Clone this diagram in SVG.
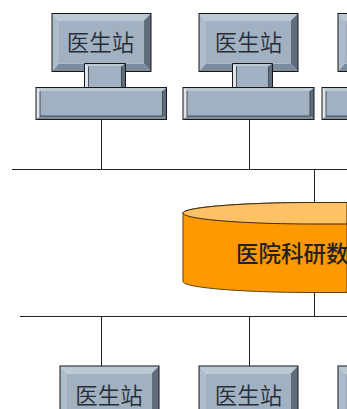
<svg xmlns="http://www.w3.org/2000/svg" xmlns:xlink="http://www.w3.org/1999/xlink" width="347" height="409" viewBox="0 0 347 409">
<style>
.f{fill:#a2b1c1}.t{fill:#bcc8d4}.l{fill:#aebccb}.p{fill:#dfe5ea}.b{fill:#7d8c9c}.r{fill:#5f6d7c}
.w{fill:none;stroke:#15191d;stroke-width:1}
.i{fill:none;stroke:#2b333b;stroke-width:.8}
.cn{fill:none;stroke:#222;stroke-width:1}
text{font-family:"Noto Sans CJK SC","Liberation Serif",serif;font-size:22.500px;font-weight:350;fill:#262d34;text-anchor:middle}
</style>
<defs>
<g id="mon">
<polygon class="t" points="0,0 99,0 91.500,7.500 7,7.500"/>
<polygon class="l" points="0,0 7,7.500 7,50 0,58"/>
<polygon class="r" points="99,0 99,58 91.500,50 91.500,7.500"/>
<polygon class="b" points="0,58 7,50 91.500,50 99,58"/>
<rect class="f" x="7" y="7.500" width="84.500" height="42.500"/>
<rect class="w" x="0" y="0" width="99" height="58"/>
</g>
</defs>
<g id="connectors">
<path class="cn" d="M12 169.500H347M20 316.500H347M101.500 119V169M249.500 119V169M314.500 169V203M314.500 292V316M101.500 316V366M249.500 316V366"/>
</g>
<g id="station-1">
<use xlink:href="#mon" x="52" y="13.500"/>
<text x="100.500" y="51">医生站</text>
<polygon class="p" points="84.500,63.500 88.500,66.500 88.500,87 84.500,87"/>
<polygon class="t" points="84.500,63.500 125.500,63.500 121.500,66.500 88.500,66.500"/>
<polygon class="r" points="125.500,63.500 125.500,87 121.500,87 121.500,66.500"/>
<rect class="f" x="88.500" y="66.500" width="33" height="20.500"/>
<path class="w" d="M84.500 87V63.500H125.500V87"/>
<path class="i" d="M88.500 87V66.500M121.500 66.500V87"/>
<polygon class="t" points="36,87.500 166.500,87.500 162.500,91 40,91"/>
<polygon class="p" points="36,87.500 40,91 40,116 36,119.500"/>
<polygon class="r" points="166.500,87.500 166.500,119.500 162.500,116 162.500,91"/>
<polygon class="b" points="36,119.500 40,116 162.500,116 166.500,119.500"/>
<rect class="f" x="40" y="91" width="122.500" height="25"/>
<rect class="w" x="36" y="87.500" width="130.500" height="32"/>
<path class="i" d="M40 91V116H162.500V91"/>
</g>
<g id="station-2">
<use xlink:href="#mon" x="199" y="13.500"/>
<text x="248.500" y="51">医生站</text>
<polygon class="p" points="232.500,63.500 236.500,66.500 236.500,87 232.500,87"/>
<polygon class="t" points="232.500,63.500 272.500,63.500 268.500,66.500 236.500,66.500"/>
<polygon class="r" points="272.500,63.500 272.500,87 268.500,87 268.500,66.500"/>
<rect class="f" x="236.500" y="66.500" width="32" height="20.500"/>
<path class="w" d="M232.500 87V63.500H272.500V87"/>
<path class="i" d="M236.500 87V66.500M268.500 66.500V87"/>
<polygon class="t" points="183,87.500 314,87.500 310,91 187,91"/>
<polygon class="p" points="183,87.500 187,91 187,116 183,119.500"/>
<polygon class="r" points="314,87.500 314,119.500 310,116 310,91"/>
<polygon class="b" points="183,119.500 187,116 310,116 314,119.500"/>
<rect class="f" x="187" y="91" width="123" height="25"/>
<rect class="w" x="183" y="87.500" width="131" height="32"/>
<path class="i" d="M187 91V116H310V91"/>
</g>
<g id="station-3">
<use xlink:href="#mon" x="338" y="13.500"/>
<polygon class="t" points="322,87.500 453,87.500 449,91 326,91"/>
<polygon class="p" points="322,87.500 326,91 326,116 322,119.500"/>
<polygon class="b" points="322,119.500 326,116 449,116 453,119.500"/>
<rect class="f" x="326" y="91" width="123" height="25"/>
<rect class="w" x="322" y="87.500" width="131" height="32"/>
<path class="i" d="M326 91V116H449"/>
</g>
<g id="database">
<path d="M183 213V281.500C183 287.500 240 292.500 314 292.500H347V202.500H314C240 202.500 183 207.500 183 213Z" fill="#ff9900" stroke="#5c4216" stroke-width="1"/>
<path d="M183 213C183 207.500 240 202.500 314 202.500H347V224H314C240 224 183 219 183 213Z" fill="#ffc166" stroke="#3a2a10" stroke-width="1"/>
<text x="236" y="262" style="fill:#222;text-anchor:start;font-weight:500">医院科研数</text>
</g>
<g id="station-4">
<use xlink:href="#mon" x="60" y="366"/>
<text x="109" y="404">医生站</text>
</g>
<g id="station-5">
<use xlink:href="#mon" x="199" y="366"/>
<text x="248.500" y="404">医生站</text>
</g>
<g id="station-6">
<use xlink:href="#mon" x="338" y="366"/>
</g>
</svg>
